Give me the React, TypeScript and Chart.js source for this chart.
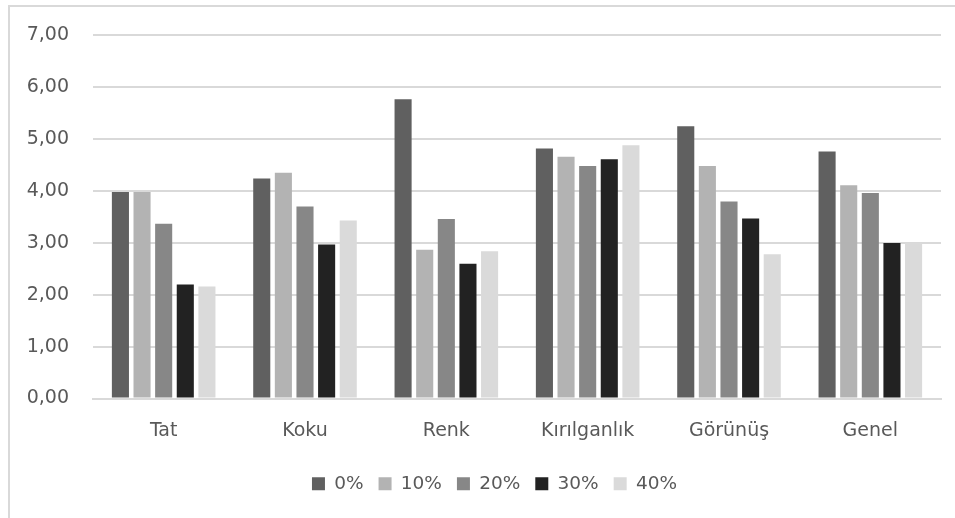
import React, { useEffect, useRef } from "react";
import { Chart, registerables } from "chart.js";

Chart.register(...registerables);

const categories = ["Tat", "Koku", "Renk", "Kırılganlık", "Görünüş", "Genel"];
const seriesLabels = ["0%", "10%", "20%", "30%", "40%"];
const values0 = [3.98, 4.24, 5.77, 4.82, 5.25, 4.76];
const values10 = [3.98, 4.35, 2.87, 4.66, 4.48, 4.11];
const values20 = [3.37, 3.70, 3.46, 4.48, 3.80, 3.96];
const values30 = [2.20, 2.97, 2.60, 4.61, 3.47, 3.00];
const values40 = [2.16, 3.43, 2.84, 4.88, 2.78, 3.00];
const seriesColors = ["#606060", "#b3b3b3", "#878787", "#222222", "#dadada"];
const yTickMin = 0;
const yTickMax = 7;
const yTickStep = 1;

const FONT = "'DejaVu Sans', sans-serif";
const TEXT = "#595959";

const shiftLegend = {
  id: "shiftLegend",
  afterLayout(chart: any) {
    if (chart.legend) chart.legend.left += 48;
  },
};

export default function App() {
  const canvasRef = useRef<HTMLCanvasElement | null>(null);

  useEffect(() => {
    if (!canvasRef.current) return;
    const allValues = [values0, values10, values20, values30, values40];
    const chart = new Chart(canvasRef.current, {
      type: "bar",
      data: {
        labels: categories,
        datasets: allValues.map((v, i) => ({
          label: seriesLabels[i],
          data: v,
          backgroundColor: seriesColors[i],
          borderWidth: 0,
          barPercentage: 0.79,
          categoryPercentage: 0.765,
        })),
      },
      plugins: [shiftLegend],
      options: {
        animation: false,
        responsive: true,
        maintainAspectRatio: false,
        layout: { padding: { top: 35, right: 14, bottom: 15, left: 0 } },
        plugins: {
          tooltip: { enabled: false },
          legend: {
            position: "bottom",
            labels: {
              boxWidth: 13,
              boxHeight: 13,
              padding: 15,
              color: TEXT,
              font: { family: FONT, size: 18.5 },
            },
          },
        },
        scales: {
          x: {
            grid: { display: false, drawTicks: false },
            border: { display: true, color: "#d9d9d9", width: 2 },
            ticks: {
              color: TEXT,
              font: { family: FONT, size: 19 },
              padding: 21,
              maxRotation: 0,
            },
            afterFit: (scale: any) => {
              scale.height = 61;
            },
          },
          y: {
            min: yTickMin,
            max: yTickMax,
            grid: { color: "#d9d9d9", lineWidth: 2, drawTicks: false },
            border: { display: false },
            ticks: {
              stepSize: yTickStep,
              color: TEXT,
              font: { family: FONT, size: 19 },
              padding: 24,
              callback: (v: any) => Number(v).toFixed(2).replace(".", ","),
            },
            afterFit: (scale: any) => {
              scale.width = 93;
            },
          },
        },
      },
    });
    return () => chart.destroy();
  }, []);

  return (
    <div style={{ position: "fixed", left: 0, top: 0, width: 955, height: 518, background: "#fff" }}>
      <div
        style={{
          position: "absolute",
          left: 8,
          top: 5,
          width: 960,
          height: 530,
          borderTop: "2px solid #d9d9d9",
          borderLeft: "2px solid #d9d9d9",
          boxSizing: "border-box",
        }}
      />
      <div style={{ position: "absolute", left: 0, top: 0, width: 955, height: 518 }}>
        <canvas ref={canvasRef} />
      </div>
    </div>
  );
}
